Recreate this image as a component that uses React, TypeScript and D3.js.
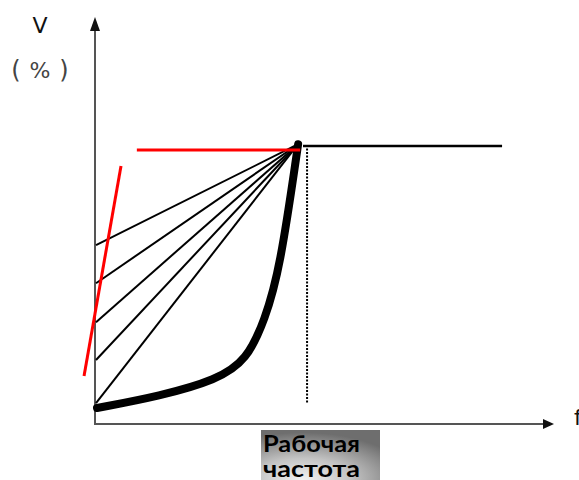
import React from "react";
import * as d3 from "d3";

// Data (x: frequency %, y: voltage %)
const ratedPoint = { f: 50, v: 101 };
const fanStartV = [64.7, 51, 37, 23.4, 7.9];
const curveF = [0.5, 16.0, 30.0, 37.4, 41.8, 45.5, 50];
const curveV = [6.1, 10.4, 16.2, 23.4, 37.8, 55.8, 101];
const redSteepF = [-2.7, 6.4];
const redSteepV = [17.6, 93.2];
const redFlatF = [10.3, 50.5];
const redFlatV = 98.9;
const blackFlatF = [51.2, 100.2];
const blackFlatV = 100.4;
const dottedF = 52.2;
const dottedV = [99.5, 8];
const yLabel = "V";
const yUnitParts = ["(", "%", ")"];
const xLabel = "f";
const xCategory = ["Рабочая", "частота"];

export default function App() {
  const W = 579, H = 480;
  const x = d3.scaleLinear().domain([0, 112]).range([95, 550]);
  const y = d3.scaleLinear().domain([0, 100]).range([425, 147]);
  const pts: [number, number][] = curveF.map((f, i) => [f, curveV[i]]);
  const curvePath = d3
    .line<[number, number]>()
    .x((d) => x(d[0]))
    .y((d) => y(d[1]))
    .curve(d3.curveBasis)(pts) as string;
  const axisColor = "#555";
  return (
    <svg width={W} height={H} style={{ position: "absolute", left: 0, top: 0, background: "#fff" }}>
      <defs>
        <radialGradient id="lblg" cx="0.35" cy="0.95" r="0.9" fx="0.35" fy="0.95">
          <stop offset="0" stopColor="#f2f2f2" />
          <stop offset="0.45" stopColor="#c4c4c4" />
          <stop offset="1" stopColor="#6e6e6e" />
        </radialGradient>
      </defs>
      {/* axes */}
      <line x1={x(0)} y1={y(0)} x2={x(0)} y2={28} stroke={axisColor} strokeWidth={2} />
      <path d={`M${x(0) - 5},31 L${x(0)},17 L${x(0) + 5},31 Z`} fill="#111" />
      <line x1={x(0)} y1={y(0) - 1} x2={545} y2={y(0) - 1} stroke={axisColor} strokeWidth={2} />
      <path d={`M543,${y(0) - 6} L554,${y(0) - 1} L543,${y(0) + 4} Z`} fill="#111" />
      <text x={40} y={33} fontFamily="DejaVu Sans, sans-serif" fontSize={22} textAnchor="middle" fill="#111">{yLabel}</text>
      {yUnitParts.map((t, i) => (
        <text key={i} x={16 + i * 24} y={78} fontFamily="DejaVu Sans, sans-serif"
          fontSize={i === 1 ? 22 : 24} textAnchor="middle" fill="#444">{t}</text>
      ))}
      <text x={574} y={425} fontFamily="DejaVu Sans, sans-serif" fontSize={22} fill="#111">{xLabel}</text>

      {/* fan lines */}
      {fanStartV.map((v, i) => (
        <line key={i} x1={x(0) + 1} y1={y(v)} x2={x(ratedPoint.f)} y2={y(ratedPoint.v)} stroke="#000" strokeWidth={2} />
      ))}
      {/* thick curve */}
      <path d={curvePath} fill="none" stroke="#000" strokeWidth={8} strokeLinecap="round" />
      {/* red lines */}
      <line x1={x(redSteepF[0])} y1={y(redSteepV[0])} x2={x(redSteepF[1])} y2={y(redSteepV[1])} stroke="#f00" strokeWidth={3} />
      <line x1={x(redFlatF[0])} y1={y(redFlatV)} x2={x(redFlatF[1])} y2={y(redFlatV)} stroke="#f00" strokeWidth={3} />
      {/* black flat */}
      <line x1={x(blackFlatF[0])} y1={y(blackFlatV)} x2={x(blackFlatF[1])} y2={y(blackFlatV)} stroke="#000" strokeWidth={2.5} />
      {/* dotted */}
      <line x1={x(dottedF)} y1={y(dottedV[0])} x2={x(dottedF)} y2={y(dottedV[1])} stroke="#000" strokeWidth={2} strokeDasharray="2,1.5" />

      {/* category label */}
      <rect x={261} y={430} width={119} height={52} fill="url(#lblg)" />
      {xCategory.map((t, i) => (
        <text key={i} x={263} y={452 + i * 25} fontFamily="Lato, sans-serif" fontWeight="bold" fontSize={23}
          textLength={97} lengthAdjust="spacingAndGlyphs" fill="#000">{t}</text>
      ))}
    </svg>
  );
}
